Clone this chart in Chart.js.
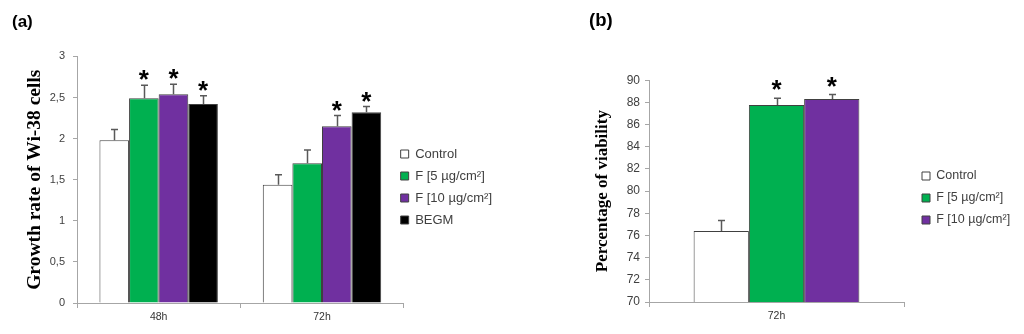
<!DOCTYPE html>
<html>
<head>
<meta charset="utf-8">
<script src="https://cdn.jsdelivr.net/npm/chart.js@4.4.0/dist/chart.umd.min.js"></script>
<style>
  html, body { margin: 0; padding: 0; background: #fff; }
  body { width: 1024px; height: 334px; position: relative; overflow: hidden; }
  .panel { position: absolute; top: 0; height: 334px; }
  #panelA { left: 0; width: 520px; }
  #panelB { left: 540px; width: 484px; }
</style>
</head>
<body>
<div class="panel" id="panelA"><canvas id="chartA"></canvas></div>
<div class="panel" id="panelB"><canvas id="chartB"></canvas></div>
<script>
// --- panel (a): growth rate of Wi-38 cells ---
const timesA = ['48h', '72h'];
const controlA = [1.98, 1.44];
const f5A = [2.49, 1.70];
const f10A = [2.54, 2.15];
const begmA = [2.42, 2.32];
const controlErrA = [0.13, 0.12];
const f5ErrA = [0.16, 0.16];
const f10ErrA = [0.12, 0.13];
const begmErrA = [0.10, 0.07];
const controlSigA = [false, false];
const f5SigA = [true, false];
const f10SigA = [true, true];
const begmSigA = [true, true];
const yTicksA = ['0', '0,5', '1', '1,5', '2', '2,5', '3'];

// --- panel (b): percentage of viability ---
const timesB = ['72h'];
const controlB = [76.4];
const f5B = [87.77];
const f10B = [88.3];
const controlErrB = [0.95];
const f5ErrB = [0.6];
const f10ErrB = [0.4];
const controlSigB = [false];
const f5SigB = [true];
const f10SigB = [true];
const yTicksB = ['70', '72', '74', '76', '78', '80', '82', '84', '86', '88', '90'];

const SERIES = ['Control', 'F [5 µg/cm²]', 'F [10 µg/cm²]', 'BEGM'];
const COLORS = ['#ffffff', '#00b050', '#7030a0', '#000000'];
const AXIS = '#a6a6a6';
const TEXT = '#404040';

Chart.defaults.font.family = '"Liberation Sans", Arial, sans-serif';
Chart.defaults.color = TEXT;

// error bars (upper only) + significance stars
const errorBars = {
  id: 'errorBars',
  afterDatasetsDraw(chart, args, opts) {
    const { ctx } = chart;
    const y = chart.scales.y;
    ctx.save();
    chart.data.datasets.forEach((ds, di) => {
      chart.getDatasetMeta(di).data.forEach((bar, i) => {
        const top = y.getPixelForValue(ds.data[i] + ds.errors[i]);
        const x = Math.round(bar.x) + 0.5;
        ctx.strokeStyle = '#595959';
        ctx.lineWidth = 1.5;
        ctx.beginPath();
        ctx.moveTo(x, bar.y);
        ctx.lineTo(x, top);
        ctx.moveTo(x - 3.5, top);
        ctx.lineTo(x + 3.5, top);
        ctx.stroke();
        if (ds.sig[i]) {
          ctx.fillStyle = '#000';
          ctx.font = 'bold 26px "Liberation Sans", Arial, sans-serif';
          ctx.textAlign = 'center';
          ctx.textBaseline = 'alphabetic';
          ctx.fillText('*', bar.x, top + opts.starShift);
        }
      });
    });
    ctx.restore();
  }
};

// move the legend block next to the plot like the original figure
const legendNudge = {
  id: 'legendNudge',
  afterLayout(chart, args, opts) {
    const lg = chart.legend;
    lg.left += opts.dx; lg.right += opts.dx;
    lg.top += opts.dy; lg.bottom += opts.dy;
  }
};

function makeSets(values, errs, sigs) {
  return values.map((v, i) => ({
    label: SERIES[i],
    data: v,
    errors: errs[i],
    sig: sigs[i],
    backgroundColor: COLORS[i],
    borderColor: '#404040',
    borderWidth: 1,
    barPercentage: 1,
  }));
}

function panel(canvas, cfg) {
  return new Chart(canvas, {
    type: 'bar',
    data: {
      labels: cfg.labels,
      datasets: makeSets(cfg.values, cfg.errs, cfg.sigs).map(d => ({ ...d, categoryPercentage: cfg.catPct })),
    },
    options: {
      responsive: true,
      maintainAspectRatio: false,
      animation: false,
      layout: { padding: cfg.padding },
      scales: {
        x: {
          grid: { offset: true, drawOnChartArea: false, tickLength: 5, color: AXIS },
          border: { color: AXIS },
          ticks: { font: { size: 10.5 }, color: '#333', padding: 3 },
          afterFit: s => { s.height = cfg.xHeight; },
        },
        y: {
          min: cfg.min,
          max: cfg.max,
          grid: { drawOnChartArea: false, tickLength: 4, color: AXIS },
          border: { color: AXIS },
          ticks: {
            stepSize: cfg.step,
            padding: cfg.tickPad,
            font: { size: cfg.tickSize },
            callback: (v, i) => cfg.ticks[i],
          },
          title: {
            display: true,
            text: cfg.yTitle,
            color: '#000',
            font: { family: '"Liberation Serif", "Times New Roman", serif', size: cfg.yTitleSize, weight: 'bold' },
            padding: { top: cfg.yTitlePad, bottom: 0 },
          },
          afterFit: s => { s.width = cfg.yWidth; },
        },
      },
      plugins: {
        title: {
          display: true,
          text: cfg.tag,
          align: 'start',
          color: '#000',
          font: { size: cfg.tagSize, weight: 'bold' },
          padding: cfg.tagPad,
        },
        legend: {
          position: 'right',
          labels: {
            boxWidth: 8,
            boxHeight: 8,
            padding: cfg.legendPad,
            color: TEXT,
            font: { size: cfg.legendSize },
          },
        },
        tooltip: { enabled: false },
        errorBars: { starShift: cfg.starShift },
        legendNudge: cfg.nudge,
      },
    },
    plugins: [errorBars, legendNudge],
  });
}

panel(document.getElementById('chartA'), {
  labels: timesA,
  values: [controlA, f5A, f10A, begmA],
  errs: [controlErrA, f5ErrA, f10ErrA, begmErrA],
  sigs: [controlSigA, f5SigA, f10SigA, begmSigA],
  catPct: 0.725,
  padding: { left: 12, top: 4, right: 6, bottom: 0 },
  xHeight: 31,
  min: 0, max: 3, step: 0.5, ticks: yTicksA,
  tickPad: 8, tickSize: 11,
  yTitle: 'Growth rate of Wi-38 cells', yTitleSize: 19.5, yTitlePad: 11,
  yWidth: 65,
  tag: '(a)', tagSize: 17, tagPad: { top: 8, bottom: 24 },
  legendPad: 9, legendSize: 13,
  starShift: 3,
  nudge: { dx: -12, dy: 18 },
});

panel(document.getElementById('chartB'), {
  labels: timesB,
  values: [controlB, f5B, f10B],
  errs: [controlErrB, f5ErrB, f10ErrB],
  sigs: [controlSigB, f5SigB, f10SigB],
  catPct: 0.65,
  padding: { left: 49, top: 4, right: 15, bottom: 0 },
  xHeight: 32,
  min: 70, max: 90, step: 2, ticks: yTicksB,
  tickPad: 5, tickSize: 12,
  yTitle: 'Percentage of viability', yTitleSize: 17, yTitlePad: 3,
  yWidth: 60,
  tag: '(b)', tagSize: 18.5, tagPad: { top: 6, bottom: 48 },
  legendPad: 9.5, legendSize: 12.5,
  starShift: 0,
  nudge: { dx: 8.5, dy: 29 },
});
</script>
</body>
</html>
